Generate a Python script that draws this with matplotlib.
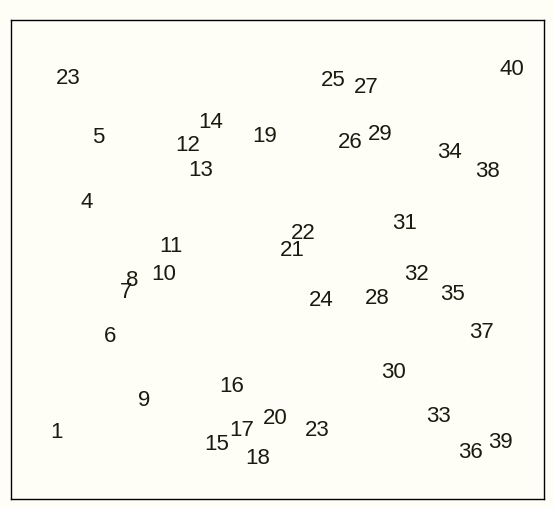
import matplotlib
matplotlib.use("Agg")
import matplotlib.pyplot as plt

# labels and their positions (frame-relative units)
labels = ['23', '5', '14', '12', '13', '19', '4', '11', '25', '27', '40', '26', '29',
          '34', '38', '31', '22', '21', '8', '7', '10', '6', '9', '1', '16', '17',
          '15', '18', '20', '32', '24', '28', '35', '37', '30', '33', '23', '36', '39']
x = [57, 87, 200, 177, 190, 254, 76, 160, 322, 355, 501, 339, 369,
     438, 476, 394, 292, 281, 121, 115, 153, 99, 133, 45, 221, 231,
     206, 247, 264, 405, 310, 366, 441, 470, 382, 427, 306, 459, 489]
y = [421, 362, 377, 354, 329, 363, 297, 252, 419, 412, 430, 357, 365,
     347, 328, 276, 266, 249, 219, 206, 224, 163, 98, 66, 112, 68,
     55, 41, 80, 224, 199, 200, 204, 167, 126, 82, 68, 47, 56]

bg = '#fefef6'
fig = plt.figure(figsize=(5.54, 5.08), dpi=100, facecolor=bg)
ax = fig.add_axes([11 / 554, 9 / 508, 533 / 554, 479 / 508])
ax.set_facecolor(bg)
ax.set_xlim(0, 533)
ax.set_ylim(0, 479)
ax.set_xticks([])
ax.set_yticks([])
for s in ax.spines.values():
    s.set_color('black')
    s.set_linewidth(1)

for lab, xi, yi in zip(labels, x, y):
    ax.text(xi, yi, lab, ha='center', va='center', fontsize=16,
            family='Liberation Sans', color='#1a1a0e')

fig.savefig('out.png', dpi=100, facecolor=bg)
